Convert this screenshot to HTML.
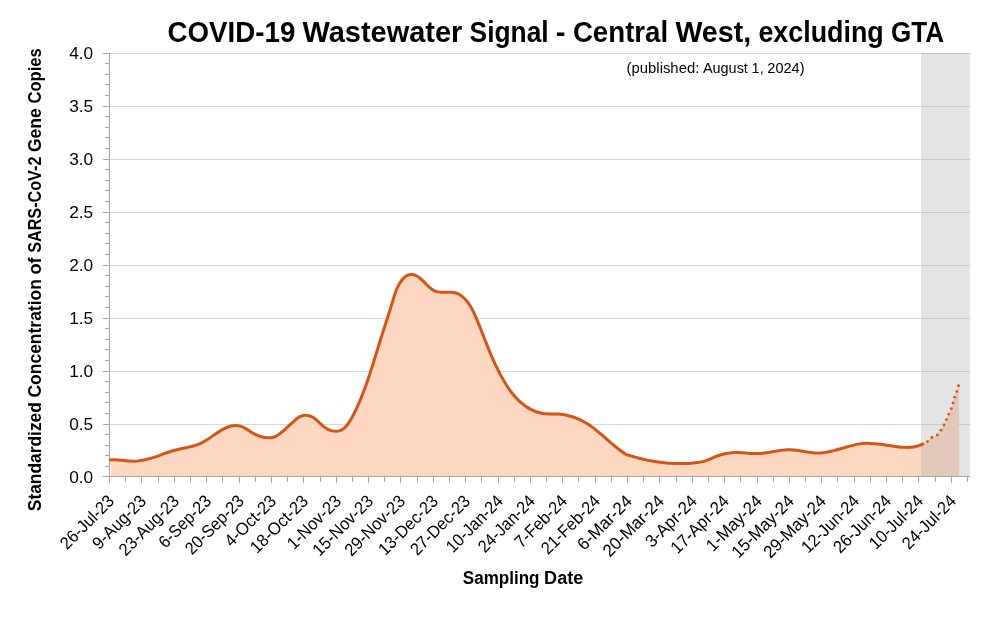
<!DOCTYPE html>
<html lang="en"><head><meta charset="utf-8">
<title>COVID-19 Wastewater Signal - Central West, excluding GTA</title>
<style>
html,body{margin:0;padding:0;background:#fff;}
body{width:1002px;height:624px;overflow:hidden;}
svg{display:block;will-change:transform;}
text{font-family:"Liberation Sans",sans-serif;fill:#000;}
.b{font-weight:bold;}
</style></head><body>
<svg width="1002" height="624" viewBox="0 0 1002 624">
<rect width="1002" height="624" fill="#fff"/>
<g stroke="#D9D9D9" stroke-width="1" shape-rendering="crispEdges">
<line x1="110" x2="970" y1="53.5" y2="53.5"/>
<line x1="110" x2="970" y1="106.5" y2="106.5"/>
<line x1="110" x2="970" y1="159.5" y2="159.5"/>
<line x1="110" x2="970" y1="212.5" y2="212.5"/>
<line x1="110" x2="970" y1="265.5" y2="265.5"/>
<line x1="110" x2="970" y1="318.5" y2="318.5"/>
<line x1="110" x2="970" y1="371.5" y2="371.5"/>
<line x1="110" x2="970" y1="424.5" y2="424.5"/>
</g>
<path d="M110.31,459.89C110.97,459.86 112.97,459.72 114.31,459.73C115.64,459.74 116.98,459.83 118.31,459.94C119.64,460.04 120.97,460.20 122.30,460.35C123.63,460.49 124.95,460.67 126.28,460.79C127.61,460.92 128.95,461.06 130.28,461.12C131.61,461.18 132.95,461.20 134.29,461.16C135.62,461.12 136.96,461.02 138.29,460.88C139.61,460.74 140.94,460.55 142.26,460.32C143.57,460.09 144.88,459.81 146.18,459.51C147.48,459.21 148.78,458.87 150.06,458.51C151.35,458.14 152.63,457.75 153.90,457.34C155.17,456.93 156.43,456.49 157.69,456.04C158.95,455.60 160.21,455.13 161.46,454.67C162.72,454.21 163.97,453.74 165.23,453.29C166.48,452.84 167.74,452.39 169.01,451.96C170.27,451.54 171.55,451.12 172.83,450.75C174.11,450.37 175.40,450.02 176.70,449.70C177.99,449.38 179.30,449.10 180.61,448.81C181.91,448.53 183.23,448.27 184.53,448.00C185.84,447.72 187.15,447.46 188.45,447.16C189.76,446.87 191.06,446.57 192.35,446.22C193.64,445.88 194.93,445.52 196.20,445.09C197.46,444.67 198.72,444.21 199.95,443.68C201.17,443.14 202.37,442.54 203.54,441.90C204.72,441.27 205.85,440.56 206.98,439.85C208.11,439.13 209.21,438.37 210.31,437.61C211.42,436.86 212.50,436.08 213.59,435.31C214.69,434.55 215.78,433.77 216.89,433.03C218.00,432.29 219.12,431.55 220.26,430.86C221.41,430.17 222.57,429.50 223.76,428.90C224.95,428.30 226.17,427.73 227.42,427.26C228.66,426.79 229.95,426.37 231.25,426.08C232.54,425.80 233.89,425.58 235.21,425.55C236.54,425.52 237.90,425.61 239.20,425.89C240.49,426.16 241.76,426.65 242.98,427.19C244.20,427.73 245.34,428.44 246.49,429.12C247.64,429.80 248.74,430.56 249.88,431.26C251.02,431.96 252.15,432.69 253.32,433.32C254.49,433.96 255.69,434.57 256.91,435.09C258.14,435.62 259.40,436.10 260.67,436.49C261.94,436.89 263.24,437.23 264.56,437.46C265.87,437.69 267.21,437.86 268.54,437.86C269.87,437.86 271.23,437.77 272.52,437.47C273.81,437.17 275.08,436.67 276.27,436.08C277.46,435.48 278.56,434.70 279.64,433.91C280.72,433.12 281.72,432.23 282.73,431.36C283.74,430.49 284.72,429.58 285.71,428.68C286.70,427.78 287.68,426.88 288.67,425.98C289.66,425.07 290.64,424.17 291.63,423.27C292.63,422.38 293.60,421.46 294.62,420.60C295.64,419.73 296.64,418.82 297.74,418.08C298.85,417.34 300.01,416.61 301.25,416.16C302.48,415.70 303.84,415.42 305.15,415.34C306.47,415.27 307.85,415.39 309.13,415.70C310.41,416.01 311.68,416.55 312.84,417.19C314.00,417.83 315.06,418.69 316.09,419.54C317.11,420.38 318.04,421.35 319.01,422.27C319.98,423.20 320.90,424.17 321.90,425.06C322.89,425.95 323.90,426.85 324.99,427.60C326.09,428.36 327.25,429.05 328.46,429.60C329.67,430.15 330.95,430.61 332.25,430.90C333.54,431.20 334.90,431.40 336.22,431.35C337.54,431.31 338.92,431.09 340.15,430.64C341.38,430.19 342.56,429.45 343.61,428.65C344.66,427.85 345.59,426.85 346.46,425.85C347.34,424.84 348.10,423.74 348.85,422.63C349.59,421.52 350.27,420.36 350.94,419.21C351.60,418.05 352.23,416.87 352.86,415.69C353.49,414.51 354.10,413.32 354.70,412.13C355.30,410.94 355.89,409.73 356.47,408.53C357.04,407.32 357.60,406.11 358.15,404.89C358.70,403.67 359.23,402.44 359.75,401.22C360.28,399.99 360.79,398.75 361.29,397.51C361.80,396.28 362.29,395.03 362.77,393.79C363.26,392.54 363.73,391.29 364.20,390.04C364.67,388.79 365.13,387.53 365.58,386.28C366.04,385.02 366.48,383.76 366.92,382.50C367.37,381.24 367.80,379.97 368.23,378.71C368.66,377.44 369.08,376.17 369.50,374.90C369.92,373.64 370.33,372.36 370.74,371.09C371.15,369.82 371.56,368.55 371.96,367.27C372.37,366.00 372.77,364.72 373.17,363.45C373.57,362.17 373.96,360.90 374.36,359.62C374.75,358.34 375.14,357.07 375.54,355.79C375.93,354.51 376.32,353.23 376.71,351.96C377.10,350.68 377.49,349.40 377.89,348.12C378.28,346.84 378.67,345.57 379.07,344.29C379.46,343.01 379.85,341.74 380.25,340.46C380.65,339.18 381.05,337.91 381.45,336.63C381.86,335.36 382.26,334.09 382.67,332.81C383.08,331.54 383.49,330.27 383.90,329.00C384.31,327.73 384.72,326.45 385.13,325.18C385.54,323.91 385.96,322.64 386.37,321.37C386.78,320.10 387.19,318.83 387.60,317.55C388.01,316.28 388.41,315.01 388.82,313.73C389.22,312.46 389.63,311.19 390.03,309.91C390.43,308.64 390.82,307.36 391.21,306.08C391.61,304.80 391.99,303.52 392.38,302.24C392.76,300.96 393.13,299.68 393.52,298.40C393.92,297.12 394.30,295.84 394.73,294.58C395.15,293.31 395.59,292.05 396.08,290.80C396.56,289.56 397.07,288.32 397.65,287.12C398.23,285.91 398.84,284.72 399.53,283.58C400.22,282.43 400.95,281.30 401.77,280.25C402.59,279.21 403.47,278.16 404.47,277.30C405.48,276.44 406.61,275.59 407.82,275.12C409.02,274.65 410.43,274.40 411.73,274.46C413.03,274.52 414.37,274.97 415.59,275.47C416.82,275.97 417.98,276.69 419.07,277.45C420.16,278.21 421.14,279.14 422.12,280.05C423.09,280.96 423.99,281.96 424.93,282.91C425.87,283.86 426.79,284.83 427.76,285.75C428.74,286.66 429.72,287.58 430.78,288.38C431.85,289.18 432.96,289.97 434.14,290.55C435.33,291.14 436.62,291.60 437.91,291.89C439.20,292.18 440.56,292.23 441.89,292.29C443.23,292.35 444.57,292.25 445.90,292.23C447.24,292.20 448.58,292.11 449.91,292.16C451.24,292.20 452.60,292.25 453.90,292.52C455.20,292.78 456.50,293.19 457.71,293.72C458.93,294.25 460.10,294.95 461.19,295.71C462.28,296.47 463.31,297.35 464.27,298.26C465.24,299.18 466.13,300.19 466.98,301.22C467.83,302.25 468.61,303.34 469.34,304.45C470.08,305.57 470.76,306.72 471.41,307.89C472.06,309.05 472.66,310.25 473.24,311.45C473.83,312.65 474.38,313.88 474.92,315.10C475.47,316.32 475.99,317.54 476.52,318.77C477.04,320.00 477.56,321.24 478.07,322.47C478.58,323.71 479.08,324.94 479.58,326.18C480.08,327.42 480.57,328.67 481.07,329.91C481.56,331.15 482.04,332.39 482.53,333.64C483.02,334.88 483.50,336.13 483.99,337.37C484.48,338.62 484.96,339.86 485.45,341.11C485.94,342.35 486.43,343.60 486.92,344.84C487.42,346.08 487.91,347.32 488.42,348.56C488.92,349.80 489.43,351.03 489.94,352.27C490.45,353.50 490.97,354.73 491.50,355.96C492.03,357.19 492.56,358.41 493.10,359.64C493.65,360.86 494.20,362.07 494.76,363.29C495.32,364.50 495.88,365.71 496.46,366.92C497.04,368.12 497.63,369.32 498.23,370.51C498.83,371.71 499.45,372.90 500.07,374.08C500.69,375.26 501.33,376.44 501.98,377.60C502.62,378.77 503.28,379.94 503.96,381.09C504.64,382.24 505.33,383.38 506.04,384.51C506.75,385.64 507.48,386.77 508.23,387.87C508.99,388.98 509.76,390.07 510.55,391.14C511.35,392.21 512.17,393.27 513.01,394.31C513.86,395.34 514.73,396.36 515.63,397.34C516.53,398.33 517.46,399.30 518.41,400.23C519.37,401.16 520.36,402.06 521.38,402.93C522.40,403.79 523.45,404.62 524.53,405.41C525.61,406.19 526.72,406.94 527.86,407.64C528.99,408.34 530.16,408.99 531.36,409.59C532.55,410.19 533.77,410.75 535.01,411.24C536.25,411.73 537.52,412.17 538.80,412.54C540.08,412.90 541.39,413.21 542.71,413.43C544.02,413.64 545.36,413.76 546.69,413.84C548.03,413.92 549.37,413.91 550.70,413.92C552.04,413.93 553.38,413.88 554.71,413.90C556.05,413.93 557.39,413.95 558.72,414.05C560.05,414.15 561.38,414.30 562.70,414.49C564.02,414.69 565.34,414.93 566.64,415.22C567.95,415.50 569.25,415.83 570.53,416.21C571.81,416.58 573.08,416.99 574.34,417.45C575.60,417.90 576.84,418.39 578.07,418.92C579.30,419.45 580.51,420.02 581.70,420.62C582.89,421.22 584.07,421.86 585.23,422.53C586.38,423.19 587.52,423.90 588.64,424.63C589.76,425.36 590.86,426.12 591.94,426.91C593.02,427.69 594.09,428.49 595.14,429.31C596.20,430.14 597.24,430.98 598.27,431.83C599.30,432.68 600.32,433.55 601.33,434.42C602.34,435.29 603.35,436.17 604.35,437.05C605.36,437.93 606.36,438.82 607.36,439.70C608.36,440.59 609.36,441.47 610.37,442.35C611.38,443.23 612.39,444.11 613.41,444.97C614.43,445.83 615.45,446.69 616.49,447.53C617.53,448.37 618.58,449.19 619.65,450.00C620.72,450.80 621.80,451.59 622.90,452.35C623.99,453.11 625.02,454.01 626.24,454.56C627.47,455.10 628.92,455.25 630.23,455.63C631.55,456.01 632.85,456.44 634.16,456.82C635.47,457.20 636.79,457.57 638.11,457.93C639.43,458.28 640.76,458.62 642.08,458.94C643.41,459.26 644.74,459.57 646.08,459.86C647.42,460.15 648.76,460.43 650.10,460.69C651.44,460.95 652.79,461.19 654.13,461.42C655.48,461.64 656.83,461.85 658.19,462.05C659.54,462.24 660.90,462.42 662.25,462.57C663.61,462.73 664.97,462.87 666.33,462.99C667.70,463.12 669.06,463.22 670.42,463.31C671.79,463.39 673.15,463.46 674.52,463.51C675.89,463.56 677.25,463.59 678.62,463.60C679.99,463.61 681.35,463.60 682.72,463.57C684.09,463.54 685.45,463.50 686.82,463.43C688.19,463.36 689.55,463.27 690.91,463.16C692.28,463.05 693.64,462.93 695.00,462.78C696.35,462.63 697.71,462.46 699.06,462.26C700.42,462.07 701.81,461.94 703.12,461.63C704.43,461.31 705.67,460.84 706.93,460.37C708.19,459.90 709.42,459.31 710.67,458.79C711.92,458.26 713.17,457.73 714.42,457.23C715.68,456.72 716.94,456.22 718.22,455.78C719.50,455.33 720.79,454.91 722.10,454.54C723.40,454.18 724.72,453.85 726.04,453.58C727.37,453.31 728.71,453.08 730.05,452.91C731.39,452.73 732.75,452.61 734.10,452.55C735.45,452.48 736.81,452.48 738.16,452.52C739.52,452.55 740.87,452.65 742.22,452.75C743.57,452.84 744.92,452.98 746.27,453.09C747.62,453.20 748.97,453.34 750.32,453.42C751.68,453.50 753.03,453.57 754.38,453.58C755.74,453.60 757.10,453.59 758.45,453.53C759.80,453.47 761.16,453.38 762.50,453.25C763.85,453.12 765.20,452.94 766.54,452.74C767.88,452.55 769.21,452.32 770.55,452.09C771.88,451.86 773.22,451.61 774.55,451.37C775.89,451.14 777.22,450.90 778.56,450.69C779.90,450.48 781.24,450.27 782.58,450.12C783.93,449.96 785.28,449.83 786.63,449.76C787.98,449.70 789.34,449.67 790.69,449.72C792.05,449.76 793.40,449.87 794.75,450.01C796.09,450.15 797.44,450.35 798.78,450.55C800.12,450.75 801.45,451.00 802.79,451.22C804.12,451.45 805.45,451.69 806.79,451.91C808.13,452.12 809.47,452.34 810.81,452.50C812.16,452.67 813.51,452.82 814.86,452.90C816.21,452.98 817.57,453.01 818.92,452.97C820.27,452.94 821.63,452.84 822.98,452.70C824.32,452.55 825.67,452.35 827.00,452.12C828.33,451.89 829.66,451.62 830.98,451.32C832.31,451.02 833.62,450.69 834.93,450.35C836.24,450.00 837.55,449.63 838.85,449.26C840.15,448.89 841.45,448.50 842.75,448.12C844.05,447.74 845.35,447.35 846.65,446.98C847.95,446.60 849.26,446.23 850.57,445.88C851.88,445.54 853.19,445.20 854.51,444.90C855.83,444.61 857.16,444.33 858.50,444.11C859.83,443.89 861.18,443.71 862.53,443.58C863.88,443.46 865.23,443.39 866.59,443.36C867.94,443.33 869.30,443.35 870.65,443.40C872.00,443.45 873.36,443.54 874.71,443.66C876.06,443.77 877.40,443.92 878.75,444.08C880.10,444.24 881.44,444.42 882.78,444.61C884.12,444.80 885.46,445.01 886.80,445.21C888.14,445.41 889.48,445.62 890.82,445.82C892.16,446.02 893.50,446.23 894.84,446.41C896.19,446.59 897.53,446.76 898.88,446.90C900.22,447.04 901.57,447.17 902.93,447.25C904.28,447.34 905.63,447.40 906.99,447.40C908.34,447.39 909.70,447.35 911.05,447.23C912.40,447.11 913.75,446.94 915.07,446.67C916.40,446.40 917.72,446.06 919.00,445.63C920.28,445.19 921.32,444.72 922.74,444.05C924.17,443.38 926.02,442.68 927.55,441.60C929.08,440.52 930.27,438.66 931.90,437.55C933.52,436.44 935.80,436.18 937.30,434.95C938.80,433.72 939.77,431.81 940.90,430.15C942.02,428.49 943.13,426.76 944.05,425.00C944.97,423.24 945.62,421.42 946.40,419.60C947.17,417.78 947.88,415.93 948.70,414.10C949.52,412.27 950.57,410.47 951.30,408.60C952.02,406.73 952.50,404.81 953.05,402.90C953.60,400.99 953.98,399.05 954.60,397.15C955.23,395.25 956.14,393.41 956.80,391.50C957.46,389.59 958.26,386.67 958.55,385.70L958.95,385.70L958.95,476L111,476Z" fill="#FDD7C0"/>
<rect x="921" y="53" width="49" height="423" fill="#A6A6A6" fill-opacity="0.3" shape-rendering="crispEdges"/>
<g stroke="#A6A6A6" stroke-width="1" shape-rendering="crispEdges" fill="none">
<line x1="109.5" x2="109.5" y1="53" y2="483"/>
<line x1="103" x2="970" y1="476.5" y2="476.5"/>
<line x1="103" x2="109" y1="53.5" y2="53.5"/>
<line x1="103" x2="109" y1="106.5" y2="106.5"/>
<line x1="103" x2="109" y1="159.5" y2="159.5"/>
<line x1="103" x2="109" y1="212.5" y2="212.5"/>
<line x1="103" x2="109" y1="265.5" y2="265.5"/>
<line x1="103" x2="109" y1="318.5" y2="318.5"/>
<line x1="103" x2="109" y1="371.5" y2="371.5"/>
<line x1="103" x2="109" y1="424.5" y2="424.5"/>
<line x1="103" x2="109" y1="476.5" y2="476.5"/>
<line x1="105" x2="109" y1="63.5" y2="63.5"/>
<line x1="105" x2="109" y1="74.5" y2="74.5"/>
<line x1="105" x2="109" y1="84.5" y2="84.5"/>
<line x1="105" x2="109" y1="95.5" y2="95.5"/>
<line x1="105" x2="109" y1="116.5" y2="116.5"/>
<line x1="105" x2="109" y1="127.5" y2="127.5"/>
<line x1="105" x2="109" y1="137.5" y2="137.5"/>
<line x1="105" x2="109" y1="148.5" y2="148.5"/>
<line x1="105" x2="109" y1="169.5" y2="169.5"/>
<line x1="105" x2="109" y1="180.5" y2="180.5"/>
<line x1="105" x2="109" y1="190.5" y2="190.5"/>
<line x1="105" x2="109" y1="201.5" y2="201.5"/>
<line x1="105" x2="109" y1="222.5" y2="222.5"/>
<line x1="105" x2="109" y1="233.5" y2="233.5"/>
<line x1="105" x2="109" y1="243.5" y2="243.5"/>
<line x1="105" x2="109" y1="254.5" y2="254.5"/>
<line x1="105" x2="109" y1="275.5" y2="275.5"/>
<line x1="105" x2="109" y1="286.5" y2="286.5"/>
<line x1="105" x2="109" y1="296.5" y2="296.5"/>
<line x1="105" x2="109" y1="307.5" y2="307.5"/>
<line x1="105" x2="109" y1="328.5" y2="328.5"/>
<line x1="105" x2="109" y1="339.5" y2="339.5"/>
<line x1="105" x2="109" y1="349.5" y2="349.5"/>
<line x1="105" x2="109" y1="360.5" y2="360.5"/>
<line x1="105" x2="109" y1="381.5" y2="381.5"/>
<line x1="105" x2="109" y1="392.5" y2="392.5"/>
<line x1="105" x2="109" y1="402.5" y2="402.5"/>
<line x1="105" x2="109" y1="413.5" y2="413.5"/>
<line x1="105" x2="109" y1="434.5" y2="434.5"/>
<line x1="105" x2="109" y1="445.5" y2="445.5"/>
<line x1="105" x2="109" y1="455.5" y2="455.5"/>
<line x1="105" x2="109" y1="466.5" y2="466.5"/>
<line x1="109.5" x2="109.5" y1="477" y2="483"/>
<line x1="125.5" x2="125.5" y1="477" y2="482"/>
<line x1="141.5" x2="141.5" y1="477" y2="483"/>
<line x1="158.5" x2="158.5" y1="477" y2="482"/>
<line x1="174.5" x2="174.5" y1="477" y2="483"/>
<line x1="190.5" x2="190.5" y1="477" y2="482"/>
<line x1="206.5" x2="206.5" y1="477" y2="483"/>
<line x1="222.5" x2="222.5" y1="477" y2="482"/>
<line x1="239.5" x2="239.5" y1="477" y2="483"/>
<line x1="255.5" x2="255.5" y1="477" y2="482"/>
<line x1="271.5" x2="271.5" y1="477" y2="483"/>
<line x1="287.5" x2="287.5" y1="477" y2="482"/>
<line x1="303.5" x2="303.5" y1="477" y2="483"/>
<line x1="320.5" x2="320.5" y1="477" y2="482"/>
<line x1="336.5" x2="336.5" y1="477" y2="483"/>
<line x1="352.5" x2="352.5" y1="477" y2="482"/>
<line x1="368.5" x2="368.5" y1="477" y2="483"/>
<line x1="384.5" x2="384.5" y1="477" y2="482"/>
<line x1="400.5" x2="400.5" y1="477" y2="483"/>
<line x1="417.5" x2="417.5" y1="477" y2="482"/>
<line x1="433.5" x2="433.5" y1="477" y2="483"/>
<line x1="449.5" x2="449.5" y1="477" y2="482"/>
<line x1="465.5" x2="465.5" y1="477" y2="483"/>
<line x1="481.5" x2="481.5" y1="477" y2="482"/>
<line x1="498.5" x2="498.5" y1="477" y2="483"/>
<line x1="514.5" x2="514.5" y1="477" y2="482"/>
<line x1="530.5" x2="530.5" y1="477" y2="483"/>
<line x1="546.5" x2="546.5" y1="477" y2="482"/>
<line x1="562.5" x2="562.5" y1="477" y2="483"/>
<line x1="578.5" x2="578.5" y1="477" y2="482"/>
<line x1="595.5" x2="595.5" y1="477" y2="483"/>
<line x1="611.5" x2="611.5" y1="477" y2="482"/>
<line x1="627.5" x2="627.5" y1="477" y2="483"/>
<line x1="643.5" x2="643.5" y1="477" y2="482"/>
<line x1="659.5" x2="659.5" y1="477" y2="483"/>
<line x1="676.5" x2="676.5" y1="477" y2="482"/>
<line x1="692.5" x2="692.5" y1="477" y2="483"/>
<line x1="708.5" x2="708.5" y1="477" y2="482"/>
<line x1="724.5" x2="724.5" y1="477" y2="483"/>
<line x1="740.5" x2="740.5" y1="477" y2="482"/>
<line x1="757.5" x2="757.5" y1="477" y2="483"/>
<line x1="773.5" x2="773.5" y1="477" y2="482"/>
<line x1="789.5" x2="789.5" y1="477" y2="483"/>
<line x1="805.5" x2="805.5" y1="477" y2="482"/>
<line x1="821.5" x2="821.5" y1="477" y2="483"/>
<line x1="837.5" x2="837.5" y1="477" y2="482"/>
<line x1="854.5" x2="854.5" y1="477" y2="483"/>
<line x1="870.5" x2="870.5" y1="477" y2="482"/>
<line x1="886.5" x2="886.5" y1="477" y2="483"/>
<line x1="902.5" x2="902.5" y1="477" y2="482"/>
<line x1="918.5" x2="918.5" y1="477" y2="483"/>
<line x1="935.5" x2="935.5" y1="477" y2="482"/>
<line x1="951.5" x2="951.5" y1="477" y2="483"/>
<line x1="967.5" x2="967.5" y1="477" y2="482"/>
</g>
<path d="M110.31,459.89C110.97,459.86 112.97,459.72 114.31,459.73C115.64,459.74 116.98,459.83 118.31,459.94C119.64,460.04 120.97,460.20 122.30,460.35C123.63,460.49 124.95,460.67 126.28,460.79C127.61,460.92 128.95,461.06 130.28,461.12C131.61,461.18 132.95,461.20 134.29,461.16C135.62,461.12 136.96,461.02 138.29,460.88C139.61,460.74 140.94,460.55 142.26,460.32C143.57,460.09 144.88,459.81 146.18,459.51C147.48,459.21 148.78,458.87 150.06,458.51C151.35,458.14 152.63,457.75 153.90,457.34C155.17,456.93 156.43,456.49 157.69,456.04C158.95,455.60 160.21,455.13 161.46,454.67C162.72,454.21 163.97,453.74 165.23,453.29C166.48,452.84 167.74,452.39 169.01,451.96C170.27,451.54 171.55,451.12 172.83,450.75C174.11,450.37 175.40,450.02 176.70,449.70C177.99,449.38 179.30,449.10 180.61,448.81C181.91,448.53 183.23,448.27 184.53,448.00C185.84,447.72 187.15,447.46 188.45,447.16C189.76,446.87 191.06,446.57 192.35,446.22C193.64,445.88 194.93,445.52 196.20,445.09C197.46,444.67 198.72,444.21 199.95,443.68C201.17,443.14 202.37,442.54 203.54,441.90C204.72,441.27 205.85,440.56 206.98,439.85C208.11,439.13 209.21,438.37 210.31,437.61C211.42,436.86 212.50,436.08 213.59,435.31C214.69,434.55 215.78,433.77 216.89,433.03C218.00,432.29 219.12,431.55 220.26,430.86C221.41,430.17 222.57,429.50 223.76,428.90C224.95,428.30 226.17,427.73 227.42,427.26C228.66,426.79 229.95,426.37 231.25,426.08C232.54,425.80 233.89,425.58 235.21,425.55C236.54,425.52 237.90,425.61 239.20,425.89C240.49,426.16 241.76,426.65 242.98,427.19C244.20,427.73 245.34,428.44 246.49,429.12C247.64,429.80 248.74,430.56 249.88,431.26C251.02,431.96 252.15,432.69 253.32,433.32C254.49,433.96 255.69,434.57 256.91,435.09C258.14,435.62 259.40,436.10 260.67,436.49C261.94,436.89 263.24,437.23 264.56,437.46C265.87,437.69 267.21,437.86 268.54,437.86C269.87,437.86 271.23,437.77 272.52,437.47C273.81,437.17 275.08,436.67 276.27,436.08C277.46,435.48 278.56,434.70 279.64,433.91C280.72,433.12 281.72,432.23 282.73,431.36C283.74,430.49 284.72,429.58 285.71,428.68C286.70,427.78 287.68,426.88 288.67,425.98C289.66,425.07 290.64,424.17 291.63,423.27C292.63,422.38 293.60,421.46 294.62,420.60C295.64,419.73 296.64,418.82 297.74,418.08C298.85,417.34 300.01,416.61 301.25,416.16C302.48,415.70 303.84,415.42 305.15,415.34C306.47,415.27 307.85,415.39 309.13,415.70C310.41,416.01 311.68,416.55 312.84,417.19C314.00,417.83 315.06,418.69 316.09,419.54C317.11,420.38 318.04,421.35 319.01,422.27C319.98,423.20 320.90,424.17 321.90,425.06C322.89,425.95 323.90,426.85 324.99,427.60C326.09,428.36 327.25,429.05 328.46,429.60C329.67,430.15 330.95,430.61 332.25,430.90C333.54,431.20 334.90,431.40 336.22,431.35C337.54,431.31 338.92,431.09 340.15,430.64C341.38,430.19 342.56,429.45 343.61,428.65C344.66,427.85 345.59,426.85 346.46,425.85C347.34,424.84 348.10,423.74 348.85,422.63C349.59,421.52 350.27,420.36 350.94,419.21C351.60,418.05 352.23,416.87 352.86,415.69C353.49,414.51 354.10,413.32 354.70,412.13C355.30,410.94 355.89,409.73 356.47,408.53C357.04,407.32 357.60,406.11 358.15,404.89C358.70,403.67 359.23,402.44 359.75,401.22C360.28,399.99 360.79,398.75 361.29,397.51C361.80,396.28 362.29,395.03 362.77,393.79C363.26,392.54 363.73,391.29 364.20,390.04C364.67,388.79 365.13,387.53 365.58,386.28C366.04,385.02 366.48,383.76 366.92,382.50C367.37,381.24 367.80,379.97 368.23,378.71C368.66,377.44 369.08,376.17 369.50,374.90C369.92,373.64 370.33,372.36 370.74,371.09C371.15,369.82 371.56,368.55 371.96,367.27C372.37,366.00 372.77,364.72 373.17,363.45C373.57,362.17 373.96,360.90 374.36,359.62C374.75,358.34 375.14,357.07 375.54,355.79C375.93,354.51 376.32,353.23 376.71,351.96C377.10,350.68 377.49,349.40 377.89,348.12C378.28,346.84 378.67,345.57 379.07,344.29C379.46,343.01 379.85,341.74 380.25,340.46C380.65,339.18 381.05,337.91 381.45,336.63C381.86,335.36 382.26,334.09 382.67,332.81C383.08,331.54 383.49,330.27 383.90,329.00C384.31,327.73 384.72,326.45 385.13,325.18C385.54,323.91 385.96,322.64 386.37,321.37C386.78,320.10 387.19,318.83 387.60,317.55C388.01,316.28 388.41,315.01 388.82,313.73C389.22,312.46 389.63,311.19 390.03,309.91C390.43,308.64 390.82,307.36 391.21,306.08C391.61,304.80 391.99,303.52 392.38,302.24C392.76,300.96 393.13,299.68 393.52,298.40C393.92,297.12 394.30,295.84 394.73,294.58C395.15,293.31 395.59,292.05 396.08,290.80C396.56,289.56 397.07,288.32 397.65,287.12C398.23,285.91 398.84,284.72 399.53,283.58C400.22,282.43 400.95,281.30 401.77,280.25C402.59,279.21 403.47,278.16 404.47,277.30C405.48,276.44 406.61,275.59 407.82,275.12C409.02,274.65 410.43,274.40 411.73,274.46C413.03,274.52 414.37,274.97 415.59,275.47C416.82,275.97 417.98,276.69 419.07,277.45C420.16,278.21 421.14,279.14 422.12,280.05C423.09,280.96 423.99,281.96 424.93,282.91C425.87,283.86 426.79,284.83 427.76,285.75C428.74,286.66 429.72,287.58 430.78,288.38C431.85,289.18 432.96,289.97 434.14,290.55C435.33,291.14 436.62,291.60 437.91,291.89C439.20,292.18 440.56,292.23 441.89,292.29C443.23,292.35 444.57,292.25 445.90,292.23C447.24,292.20 448.58,292.11 449.91,292.16C451.24,292.20 452.60,292.25 453.90,292.52C455.20,292.78 456.50,293.19 457.71,293.72C458.93,294.25 460.10,294.95 461.19,295.71C462.28,296.47 463.31,297.35 464.27,298.26C465.24,299.18 466.13,300.19 466.98,301.22C467.83,302.25 468.61,303.34 469.34,304.45C470.08,305.57 470.76,306.72 471.41,307.89C472.06,309.05 472.66,310.25 473.24,311.45C473.83,312.65 474.38,313.88 474.92,315.10C475.47,316.32 475.99,317.54 476.52,318.77C477.04,320.00 477.56,321.24 478.07,322.47C478.58,323.71 479.08,324.94 479.58,326.18C480.08,327.42 480.57,328.67 481.07,329.91C481.56,331.15 482.04,332.39 482.53,333.64C483.02,334.88 483.50,336.13 483.99,337.37C484.48,338.62 484.96,339.86 485.45,341.11C485.94,342.35 486.43,343.60 486.92,344.84C487.42,346.08 487.91,347.32 488.42,348.56C488.92,349.80 489.43,351.03 489.94,352.27C490.45,353.50 490.97,354.73 491.50,355.96C492.03,357.19 492.56,358.41 493.10,359.64C493.65,360.86 494.20,362.07 494.76,363.29C495.32,364.50 495.88,365.71 496.46,366.92C497.04,368.12 497.63,369.32 498.23,370.51C498.83,371.71 499.45,372.90 500.07,374.08C500.69,375.26 501.33,376.44 501.98,377.60C502.62,378.77 503.28,379.94 503.96,381.09C504.64,382.24 505.33,383.38 506.04,384.51C506.75,385.64 507.48,386.77 508.23,387.87C508.99,388.98 509.76,390.07 510.55,391.14C511.35,392.21 512.17,393.27 513.01,394.31C513.86,395.34 514.73,396.36 515.63,397.34C516.53,398.33 517.46,399.30 518.41,400.23C519.37,401.16 520.36,402.06 521.38,402.93C522.40,403.79 523.45,404.62 524.53,405.41C525.61,406.19 526.72,406.94 527.86,407.64C528.99,408.34 530.16,408.99 531.36,409.59C532.55,410.19 533.77,410.75 535.01,411.24C536.25,411.73 537.52,412.17 538.80,412.54C540.08,412.90 541.39,413.21 542.71,413.43C544.02,413.64 545.36,413.76 546.69,413.84C548.03,413.92 549.37,413.91 550.70,413.92C552.04,413.93 553.38,413.88 554.71,413.90C556.05,413.93 557.39,413.95 558.72,414.05C560.05,414.15 561.38,414.30 562.70,414.49C564.02,414.69 565.34,414.93 566.64,415.22C567.95,415.50 569.25,415.83 570.53,416.21C571.81,416.58 573.08,416.99 574.34,417.45C575.60,417.90 576.84,418.39 578.07,418.92C579.30,419.45 580.51,420.02 581.70,420.62C582.89,421.22 584.07,421.86 585.23,422.53C586.38,423.19 587.52,423.90 588.64,424.63C589.76,425.36 590.86,426.12 591.94,426.91C593.02,427.69 594.09,428.49 595.14,429.31C596.20,430.14 597.24,430.98 598.27,431.83C599.30,432.68 600.32,433.55 601.33,434.42C602.34,435.29 603.35,436.17 604.35,437.05C605.36,437.93 606.36,438.82 607.36,439.70C608.36,440.59 609.36,441.47 610.37,442.35C611.38,443.23 612.39,444.11 613.41,444.97C614.43,445.83 615.45,446.69 616.49,447.53C617.53,448.37 618.58,449.19 619.65,450.00C620.72,450.80 621.80,451.59 622.90,452.35C623.99,453.11 625.02,454.01 626.24,454.56C627.47,455.10 628.92,455.25 630.23,455.63C631.55,456.01 632.85,456.44 634.16,456.82C635.47,457.20 636.79,457.57 638.11,457.93C639.43,458.28 640.76,458.62 642.08,458.94C643.41,459.26 644.74,459.57 646.08,459.86C647.42,460.15 648.76,460.43 650.10,460.69C651.44,460.95 652.79,461.19 654.13,461.42C655.48,461.64 656.83,461.85 658.19,462.05C659.54,462.24 660.90,462.42 662.25,462.57C663.61,462.73 664.97,462.87 666.33,462.99C667.70,463.12 669.06,463.22 670.42,463.31C671.79,463.39 673.15,463.46 674.52,463.51C675.89,463.56 677.25,463.59 678.62,463.60C679.99,463.61 681.35,463.60 682.72,463.57C684.09,463.54 685.45,463.50 686.82,463.43C688.19,463.36 689.55,463.27 690.91,463.16C692.28,463.05 693.64,462.93 695.00,462.78C696.35,462.63 697.71,462.46 699.06,462.26C700.42,462.07 701.81,461.94 703.12,461.63C704.43,461.31 705.67,460.84 706.93,460.37C708.19,459.90 709.42,459.31 710.67,458.79C711.92,458.26 713.17,457.73 714.42,457.23C715.68,456.72 716.94,456.22 718.22,455.78C719.50,455.33 720.79,454.91 722.10,454.54C723.40,454.18 724.72,453.85 726.04,453.58C727.37,453.31 728.71,453.08 730.05,452.91C731.39,452.73 732.75,452.61 734.10,452.55C735.45,452.48 736.81,452.48 738.16,452.52C739.52,452.55 740.87,452.65 742.22,452.75C743.57,452.84 744.92,452.98 746.27,453.09C747.62,453.20 748.97,453.34 750.32,453.42C751.68,453.50 753.03,453.57 754.38,453.58C755.74,453.60 757.10,453.59 758.45,453.53C759.80,453.47 761.16,453.38 762.50,453.25C763.85,453.12 765.20,452.94 766.54,452.74C767.88,452.55 769.21,452.32 770.55,452.09C771.88,451.86 773.22,451.61 774.55,451.37C775.89,451.14 777.22,450.90 778.56,450.69C779.90,450.48 781.24,450.27 782.58,450.12C783.93,449.96 785.28,449.83 786.63,449.76C787.98,449.70 789.34,449.67 790.69,449.72C792.05,449.76 793.40,449.87 794.75,450.01C796.09,450.15 797.44,450.35 798.78,450.55C800.12,450.75 801.45,451.00 802.79,451.22C804.12,451.45 805.45,451.69 806.79,451.91C808.13,452.12 809.47,452.34 810.81,452.50C812.16,452.67 813.51,452.82 814.86,452.90C816.21,452.98 817.57,453.01 818.92,452.97C820.27,452.94 821.63,452.84 822.98,452.70C824.32,452.55 825.67,452.35 827.00,452.12C828.33,451.89 829.66,451.62 830.98,451.32C832.31,451.02 833.62,450.69 834.93,450.35C836.24,450.00 837.55,449.63 838.85,449.26C840.15,448.89 841.45,448.50 842.75,448.12C844.05,447.74 845.35,447.35 846.65,446.98C847.95,446.60 849.26,446.23 850.57,445.88C851.88,445.54 853.19,445.20 854.51,444.90C855.83,444.61 857.16,444.33 858.50,444.11C859.83,443.89 861.18,443.71 862.53,443.58C863.88,443.46 865.23,443.39 866.59,443.36C867.94,443.33 869.30,443.35 870.65,443.40C872.00,443.45 873.36,443.54 874.71,443.66C876.06,443.77 877.40,443.92 878.75,444.08C880.10,444.24 881.44,444.42 882.78,444.61C884.12,444.80 885.46,445.01 886.80,445.21C888.14,445.41 889.48,445.62 890.82,445.82C892.16,446.02 893.50,446.23 894.84,446.41C896.19,446.59 897.53,446.76 898.88,446.90C900.22,447.04 901.57,447.17 902.93,447.25C904.28,447.34 905.63,447.40 906.99,447.40C908.34,447.39 909.70,447.35 911.05,447.23C912.40,447.11 913.75,446.94 915.07,446.67C916.40,446.40 917.72,446.06 919.00,445.63C920.28,445.19 922.12,444.31 922.74,444.05" fill="none" stroke="#D55418" stroke-width="3" stroke-linecap="round" stroke-linejoin="round"/>
<g fill="#D55418"><circle cx="927.55" cy="441.60" r="1.45"/><circle cx="931.90" cy="437.55" r="1.45"/><circle cx="937.30" cy="434.95" r="1.45"/><circle cx="940.90" cy="430.15" r="1.45"/><circle cx="944.05" cy="425.00" r="1.45"/><circle cx="946.40" cy="419.60" r="1.45"/><circle cx="948.70" cy="414.10" r="1.45"/><circle cx="951.30" cy="408.60" r="1.45"/><circle cx="953.05" cy="402.90" r="1.45"/><circle cx="954.60" cy="397.15" r="1.45"/><circle cx="956.80" cy="391.50" r="1.45"/><circle cx="958.55" cy="385.70" r="1.45"/></g>
<text y="41.5" font-size="28.6" class="b"><tspan x="167.6" textLength="127.7" lengthAdjust="spacingAndGlyphs">COVID-19</tspan> <tspan x="302.5" textLength="159.9" lengthAdjust="spacingAndGlyphs">Wastewater</tspan> <tspan x="469.6" textLength="79.0" lengthAdjust="spacingAndGlyphs">Signal</tspan> <tspan x="555.8" textLength="9.8" lengthAdjust="spacingAndGlyphs">-</tspan> <tspan x="572.9" textLength="95.3" lengthAdjust="spacingAndGlyphs">Central</tspan> <tspan x="675.4" textLength="75.7" lengthAdjust="spacingAndGlyphs">West,</tspan> <tspan x="758.4" textLength="125.4" lengthAdjust="spacingAndGlyphs">excluding</tspan> <tspan x="891.0" textLength="53.0" lengthAdjust="spacingAndGlyphs">GTA</tspan></text>
<text y="73" font-size="14.3"><tspan x="626.6" textLength="72.7" lengthAdjust="spacingAndGlyphs">(published:</tspan> <tspan x="702.9" textLength="45.0" lengthAdjust="spacingAndGlyphs">August</tspan> <tspan x="751.6" textLength="12.1" lengthAdjust="spacingAndGlyphs">1,</tspan> <tspan x="767.3" textLength="37.3" lengthAdjust="spacingAndGlyphs">2024)</tspan></text>
<text y="584.0" font-size="17.6" class="b"><tspan x="462.8" textLength="76.7" lengthAdjust="spacingAndGlyphs">Sampling</tspan> <tspan x="544.1" textLength="39.2" lengthAdjust="spacingAndGlyphs">Date</tspan></text>
<g transform="translate(40.6,511.2) rotate(-90)"><text y="0" font-size="17.6" class="b"><tspan x="0.0" textLength="109.1" lengthAdjust="spacingAndGlyphs">Standardized</tspan> <tspan x="113.7" textLength="118.4" lengthAdjust="spacingAndGlyphs">Concentration</tspan> <tspan x="236.6" textLength="17.2" lengthAdjust="spacingAndGlyphs">of</tspan> <tspan x="258.4" textLength="96.2" lengthAdjust="spacingAndGlyphs">SARS-CoV-2</tspan> <tspan x="359.1" textLength="43.9" lengthAdjust="spacingAndGlyphs">Gene</tspan> <tspan x="407.6" textLength="55.4" lengthAdjust="spacingAndGlyphs">Copies</tspan></text></g>
<text x="69.2" y="483.2" font-size="15.9" textLength="24.0" lengthAdjust="spacingAndGlyphs">0.0</text>
<text x="69.2" y="430.2" font-size="15.9" textLength="24.0" lengthAdjust="spacingAndGlyphs">0.5</text>
<text x="69.2" y="377.2" font-size="15.9" textLength="24.0" lengthAdjust="spacingAndGlyphs">1.0</text>
<text x="69.2" y="324.2" font-size="15.9" textLength="24.0" lengthAdjust="spacingAndGlyphs">1.5</text>
<text x="69.2" y="271.2" font-size="15.9" textLength="24.0" lengthAdjust="spacingAndGlyphs">2.0</text>
<text x="69.2" y="218.2" font-size="15.9" textLength="24.0" lengthAdjust="spacingAndGlyphs">2.5</text>
<text x="69.2" y="165.2" font-size="15.9" textLength="24.0" lengthAdjust="spacingAndGlyphs">3.0</text>
<text x="69.2" y="112.2" font-size="15.9" textLength="24.0" lengthAdjust="spacingAndGlyphs">3.5</text>
<text x="69.2" y="59.2" font-size="15.9" textLength="24.0" lengthAdjust="spacingAndGlyphs">4.0</text>
<text transform="translate(115.2,502.2) rotate(-45)" x="-68.0" y="0" font-size="17.4" textLength="68.0" lengthAdjust="spacingAndGlyphs">26-Jul-23</text>
<text transform="translate(147.2,502.2) rotate(-45)" x="-67.8" y="0" font-size="17.4" textLength="67.8" lengthAdjust="spacingAndGlyphs">9-Aug-23</text>
<text transform="translate(180.2,502.2) rotate(-45)" x="-77.1" y="0" font-size="17.4" textLength="77.1" lengthAdjust="spacingAndGlyphs">23-Aug-23</text>
<text transform="translate(212.2,502.2) rotate(-45)" x="-66.2" y="0" font-size="17.4" textLength="66.2" lengthAdjust="spacingAndGlyphs">6-Sep-23</text>
<text transform="translate(245.2,502.2) rotate(-45)" x="-75.4" y="0" font-size="17.4" textLength="75.4" lengthAdjust="spacingAndGlyphs">20-Sep-23</text>
<text transform="translate(277.2,502.2) rotate(-45)" x="-64.5" y="0" font-size="17.4" textLength="64.5" lengthAdjust="spacingAndGlyphs">4-Oct-23</text>
<text transform="translate(309.2,502.2) rotate(-45)" x="-73.7" y="0" font-size="17.4" textLength="73.7" lengthAdjust="spacingAndGlyphs">18-Oct-23</text>
<text transform="translate(342.2,502.2) rotate(-45)" x="-68.3" y="0" font-size="17.4" textLength="68.3" lengthAdjust="spacingAndGlyphs">1-Nov-23</text>
<text transform="translate(374.2,502.2) rotate(-45)" x="-77.5" y="0" font-size="17.4" textLength="77.5" lengthAdjust="spacingAndGlyphs">15-Nov-23</text>
<text transform="translate(406.2,502.2) rotate(-45)" x="-77.5" y="0" font-size="17.4" textLength="77.5" lengthAdjust="spacingAndGlyphs">29-Nov-23</text>
<text transform="translate(439.2,502.2) rotate(-45)" x="-76.4" y="0" font-size="17.4" textLength="76.4" lengthAdjust="spacingAndGlyphs">13-Dec-23</text>
<text transform="translate(471.2,502.2) rotate(-45)" x="-76.4" y="0" font-size="17.4" textLength="76.4" lengthAdjust="spacingAndGlyphs">27-Dec-23</text>
<text transform="translate(504.2,502.2) rotate(-45)" x="-72.5" y="0" font-size="17.4" textLength="72.5" lengthAdjust="spacingAndGlyphs">10-Jan-24</text>
<text transform="translate(536.2,502.2) rotate(-45)" x="-72.5" y="0" font-size="17.4" textLength="72.5" lengthAdjust="spacingAndGlyphs">24-Jan-24</text>
<text transform="translate(568.2,502.2) rotate(-45)" x="-65.9" y="0" font-size="17.4" textLength="65.9" lengthAdjust="spacingAndGlyphs">7-Feb-24</text>
<text transform="translate(601.2,502.2) rotate(-45)" x="-75.2" y="0" font-size="17.4" textLength="75.2" lengthAdjust="spacingAndGlyphs">21-Feb-24</text>
<text transform="translate(633.2,502.2) rotate(-45)" x="-69.3" y="0" font-size="17.4" textLength="69.3" lengthAdjust="spacingAndGlyphs">6-Mar-24</text>
<text transform="translate(665.2,502.2) rotate(-45)" x="-78.6" y="0" font-size="17.4" textLength="78.6" lengthAdjust="spacingAndGlyphs">20-Mar-24</text>
<text transform="translate(698.2,502.2) rotate(-45)" x="-65.1" y="0" font-size="17.4" textLength="65.1" lengthAdjust="spacingAndGlyphs">3-Apr-24</text>
<text transform="translate(730.2,502.2) rotate(-45)" x="-74.4" y="0" font-size="17.4" textLength="74.4" lengthAdjust="spacingAndGlyphs">17-Apr-24</text>
<text transform="translate(763.2,502.2) rotate(-45)" x="-71.0" y="0" font-size="17.4" textLength="71.0" lengthAdjust="spacingAndGlyphs">1-May-24</text>
<text transform="translate(795.2,502.2) rotate(-45)" x="-80.3" y="0" font-size="17.4" textLength="80.3" lengthAdjust="spacingAndGlyphs">15-May-24</text>
<text transform="translate(827.2,502.2) rotate(-45)" x="-80.3" y="0" font-size="17.4" textLength="80.3" lengthAdjust="spacingAndGlyphs">29-May-24</text>
<text transform="translate(860.2,502.2) rotate(-45)" x="-73.4" y="0" font-size="17.4" textLength="73.4" lengthAdjust="spacingAndGlyphs">12-Jun-24</text>
<text transform="translate(892.2,502.2) rotate(-45)" x="-73.4" y="0" font-size="17.4" textLength="73.4" lengthAdjust="spacingAndGlyphs">26-Jun-24</text>
<text transform="translate(924.2,502.2) rotate(-45)" x="-68.0" y="0" font-size="17.4" textLength="68.0" lengthAdjust="spacingAndGlyphs">10-Jul-24</text>
<text transform="translate(957.2,502.2) rotate(-45)" x="-68.0" y="0" font-size="17.4" textLength="68.0" lengthAdjust="spacingAndGlyphs">24-Jul-24</text>
</svg></body></html>
